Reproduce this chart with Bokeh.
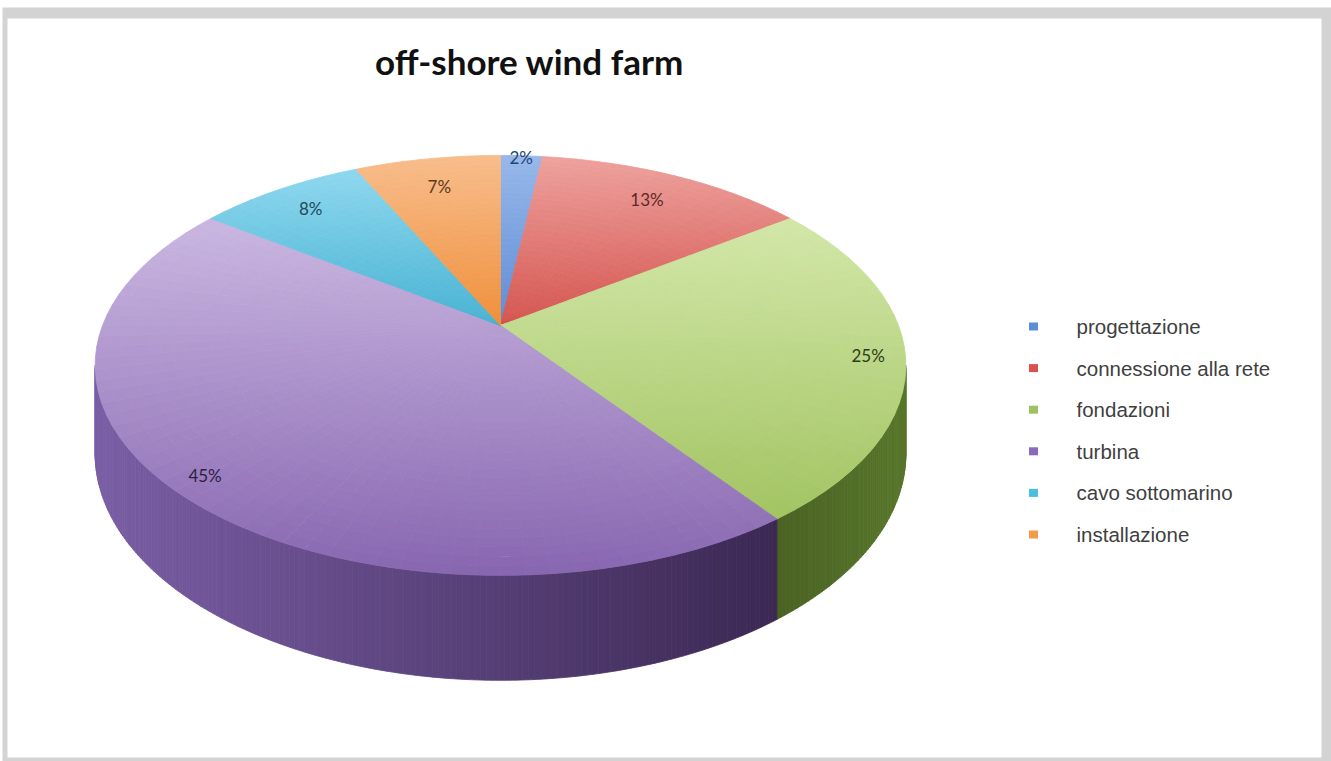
import numpy as np
from bokeh.plotting import figure
from bokeh.models import ColumnDataSource, Range1d
from bokeh.embed import file_html
from bokeh.resources import INLINE
from bokeh.core.properties import value

# ---------------- data ----------------
categories = ["progettazione", "connessione alla rete", "fondazioni",
              "turbina", "cavo sottomarino", "installazione"]
shares = [2, 13, 25, 45, 8, 7]
pct_labels = ["2%", "13%", "25%", "45%", "8%", "7%"]
title_text = "off-shore wind farm"

# ---------------- style ----------------
top_light = ["#98b8ea", "#eea29e", "#d3e7a9", "#cab7e1", "#8fd8ef", "#f8bd8c"]
top_dark = ["#5d8bd4", "#d4544f", "#a2c462", "#8766b0", "#47b2d2", "#ef8f3a"]
side_left = ["#3f6aa8", "#9a3431", "#4a6323", "#7a5ea5", "#2d8aa6", "#c46e23"]
side_right = ["#3f6aa8", "#9a3431", "#58762b", "#3b2853", "#2d8aa6", "#c46e23"]
legend_colors = ["#5a8ed6", "#d8524e", "#9dc25f", "#8a6bbb", "#4bc0de", "#f29b48"]
label_colors = ["#24466f", "#5a2a26", "#2d3b18", "#2c1f45", "#1e4a57", "#5e3a1b"]
label_r = [0.985, 0.82, 0.91, 0.92, 0.84, 0.81]

W, H = 1331, 761
CX, CY = 500.0, 325.0      # apex of slices on screen
A, B, K = 398.0, 202.4, 0.19
DEPTH = 85.0


def hex2rgb(h):
    h = h.lstrip("#")
    return np.array([int(h[i:i + 2], 16) for i in (0, 2, 4)], dtype=float)


def lerp(c1, c2, t):
    t = min(max(t, 0.0), 1.0)
    c = hex2rgb(c1) * (1 - t) + hex2rgb(c2) * t
    return "#%02x%02x%02x" % tuple(int(round(v)) for v in c)


def proj(r, phi):
    ph = np.radians(phi)
    X = r * np.sin(ph)
    Z = r * np.cos(ph)
    w = 1 + K * Z
    return CX + A * X / w, CY - B * Z / w, w


p = figure(width=W, height=H, x_range=Range1d(0, W), y_range=Range1d(H, 0),
           output_backend="svg", toolbar_location=None, min_border=0)
p.xaxis.visible = False
p.yaxis.visible = False
p.grid.visible = False
p.outline_line_color = None
p.background_fill_color = "white"
p.border_fill_color = "white"

# frame
p.quad(left=2, right=W, top=7, bottom=H, fill_color="#d3d3d3", line_color=None)
p.quad(left=7, right=1321, top=18, bottom=757, fill_color="#ffffff", line_color=None)

total = float(sum(shares))
bounds = np.concatenate([[0], np.cumsum(shares)]) / total * 360.0

# ---------------- sides ----------------
vis0 = np.degrees(np.arccos(-K))
vis1 = 360 - vis0
sx, sy, sc = [], [], []
for i in range(len(shares)):
    a0, a1 = max(bounds[i], vis0), min(bounds[i + 1], vis1)
    if a1 <= a0:
        continue
    n = max(2, int(np.ceil((a1 - a0) / 0.7)))
    angs = np.linspace(a0, a1, n + 1)
    xs_all = [proj(1, a)[0] for a in angs]
    xmin, xmax = min(xs_all), max(xs_all)
    for k in range(n):
        x0, y0, w0 = proj(1, angs[k])
        x1, y1, w1 = proj(1, angs[k + 1])
        sx.append([x0, x1, x1, x0])
        sy.append([y0, y1, y1 + DEPTH / w1, y0 + DEPTH / w0])
        t = ((x0 + x1) / 2 - xmin) / max(xmax - xmin, 1e-6)
        sc.append(lerp(side_left[i], side_right[i], t))
p.patches(xs="xs", ys="ys", fill_color="c", line_color="c", line_width=0.8,
          source=ColumnDataSource(dict(xs=sx, ys=sy, c=sc)))

# ---------------- top faces ----------------
tx, ty, tc = [], [], []
NR = 32
for i in range(len(shares)):
    a0, a1 = bounds[i], bounds[i + 1]
    n = max(2, int(np.ceil((a1 - a0) / 3.0)))
    angs = np.linspace(a0, a1, n + 1)
    outline_y = [CY] + [proj(1, a)[1] for a in angs]
    ymin, ymax = min(outline_y), max(outline_y)
    rs = np.linspace(0, 1, NR + 1)
    for j in range(NR):
        for k in range(n):
            pts = [proj(rs[j], angs[k]), proj(rs[j], angs[k + 1]),
                   proj(rs[j + 1], angs[k + 1]), proj(rs[j + 1], angs[k])]
            xs = [q[0] for q in pts]
            ys = [q[1] for q in pts]
            tx.append(xs)
            ty.append(ys)
            t = (np.mean(ys) - ymin) / (ymax - ymin)
            tc.append(lerp(top_light[i], top_dark[i], t))
p.patches(xs="xs", ys="ys", fill_color="c", line_color="c", line_width=0.8,
          source=ColumnDataSource(dict(xs=tx, ys=ty, c=tc)))

# ---------------- percent labels ----------------
lx, ly = [], []
for i in range(len(shares)):
    mid = (bounds[i] + bounds[i + 1]) / 2
    x, y, _ = proj(label_r[i], mid)
    lx.append(x)
    ly.append(y)
p.text(x=lx, y=ly, text=pct_labels, text_color=label_colors,
       text_font=value("Lato"), text_font_size="17px",
       text_align="center", text_baseline="middle")

# ---------------- title ----------------
p.text(x=[529], y=[60], text=[title_text], text_font=value("Lato"),
       text_font_style="bold", text_font_size="35px", text_color="#111111",
       text_align="center", text_baseline="middle")

# ---------------- legend ----------------
leg_y = [326 + 41.6 * i for i in range(len(categories))]
p.rect(x=[1033] * len(categories), y=leg_y, width=9, height=8,
       fill_color=legend_colors, line_color=None)
p.text(x=[1076] * len(categories), y=leg_y, text=categories,
       text_font=value("Liberation Sans"), text_font_size="20.5px",
       text_color="#3f3f3f", text_align="left", text_baseline="middle")

open("out.html", "w").write(file_html(p, INLINE))
